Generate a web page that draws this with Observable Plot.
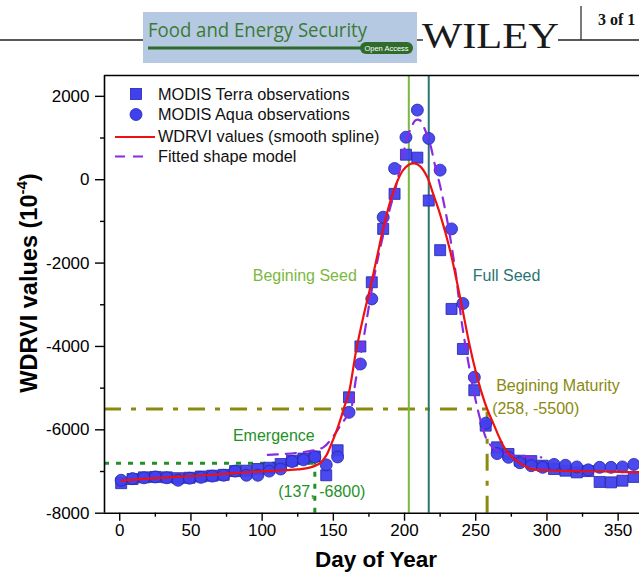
<!DOCTYPE html>
<html><head><meta charset="utf-8">
<script src="https://cdn.jsdelivr.net/npm/d3@7"></script>
<script src="https://cdn.jsdelivr.net/npm/@observablehq/plot@0.6"></script>
<style>
html,body{margin:0;padding:0;background:#fff;}
#wrap{position:relative;width:639px;height:573px;overflow:hidden;background:#fff;font-family:"Liberation Sans",Arial,sans-serif;}
#wrap svg{position:absolute;left:0;top:0;}
</style></head>
<body><div id="wrap"></div>
<script>
// ---- data ----
const days = [1,9,17,25,33,41,49,57,65,73,81,89,97,105,113,121,129,137,145,153,161,169,177,185,193,201,209,217,225,233,241,249,257,265,273,281,289,297,305,313,321,329,337,345,353,361];
const terra = [-7280,-7180,-7140,-7130,-7140,-7160,-7150,-7120,-7100,-7080,-6990,-6980,-6940,-6910,-6820,-6740,-6690,-6640,-7090,-6490,-5220,-4000,-2460,-1180,-340,600,530,-500,-1690,-3100,-4060,-5050,-5900,-6420,-6580,-6740,-6750,-6860,-6940,-6980,-7020,-6990,-7250,-7260,-7220,-7130];
const aqua = [-7210,-7170,-7150,-7130,-7150,-7210,-7160,-7140,-7110,-7090,-6990,-7090,-7090,-6990,-6940,-6760,-6720,-6650,-6840,-6650,-5580,-4420,-2860,-900,270,1020,1670,990,230,-1180,-2970,-4740,-5840,-6570,-6660,-6790,-6860,-6900,-6830,-6850,-6890,-6960,-6900,-6900,-6890,-6830];
const splineDays = [1,20,40,60,80,100,115,125,134,141,145,148,152,155,158,161,166,171,176,181,185,190,195,199,203,207,211,216,220,225,232,239,246,250,254.5,258,263,267,270,275,279,288,300,320,340,365];
const splineVals = [-7220,-7170,-7130,-7090,-7040,-6995,-6970,-6950,-6900,-6790,-6620,-6390,-6050,-5750,-5420,-5100,-4100,-3300,-2580,-1800,-1170,-520,-30,230,360,390,320,60,-330,-830,-1700,-2820,-4020,-4600,-5150,-5500,-5900,-6220,-6420,-6640,-6750,-6930,-6970,-6990,-7000,-7020];
const modelDays = [104,115,125,135,143,149,155,159,162,166,169,173,176,180,183,187,190,193,196,200,204,208,211,214,218,222,225,230,236,240,245,250,254,258,263,270,280,296];
const modelVals = [-6600,-6580,-6550,-6500,-6420,-6200,-5900,-5700,-5550,-4750,-4260,-3450,-2830,-2100,-1620,-1050,-660,-300,150,750,1200,1430,1420,1230,850,250,-150,-980,-2260,-3380,-4420,-5300,-5850,-6250,-6450,-6570,-6630,-6660];
const xMajor = [0,50,100,150,200,250,300,350];
const xMinor = [25,75,125,175,225,275,325];
const yMajor = [-8000,-6000,-4000,-2000,0,2000];
const yMinor = [-7000,-5000,-3000,-1000,1000];
const stageLines = [{day:203, name:"Begining Seed"},{day:217, name:"Full Seed"}];
const emergence = {day:137, value:-6800, name:"Emergence", label:"(137, -6800)"};
const maturity = {day:258, value:-5500, name:"Begining Maturity", label:"(258, -5500)"};
const legendItems = ["MODIS Terra observations","MODIS Aqua observations","WDRVI values (smooth spline)","Fitted shape model"];

const xDom = [-10.7, 365];
const yDom = [-8000, 2500];
const terraData = days.map((d,i)=>({day:d, v:terra[i]}));
const aquaData = days.map((d,i)=>({day:d, v:aqua[i]}));
const splineData = splineDays.map((d,i)=>({day:d, v:splineVals[i]}));
const modelData = modelDays.map((d,i)=>({day:d, v:modelVals[i]}));

const cSeed="#7cb83e", cFull="#2a7575", cEm="#1f9127", cMat="#8a8a10";
const blue="#4040ee", blueEdge="#2525a8";

const chart = Plot.plot({
  width:639, height:573,
  marginTop:75, marginBottom:60.3, marginLeft:104, marginRight:0,
  x:{domain:xDom}, y:{domain:yDom},
  style:{fontFamily:"'Liberation Sans',Arial,sans-serif", fontSize:"17px", color:"#000", background:"transparent", overflow:"visible"},
  marks:[
    // reference lines
    Plot.ruleY([emergence], {y:"value", x1:xDom[0], x2:"day", stroke:cEm, strokeWidth:3, strokeDasharray:"5,7"}),
    Plot.ruleX([emergence], {x:"day", y1:yDom[0], y2:"value", stroke:cEm, strokeWidth:3, strokeDasharray:"5,7"}),
    Plot.ruleY([maturity], {y:"value", x1:xDom[0], x2:"day", stroke:cMat, strokeWidth:3, strokeDasharray:"17,10,5,10"}),
    Plot.ruleX([maturity], {x:"day", y1:yDom[0], y2:"value", stroke:cMat, strokeWidth:3, strokeDasharray:"17,10,5,10"}),
    Plot.ruleX([stageLines[0]], {x:"day", stroke:cSeed, strokeWidth:2}),
    Plot.ruleX([stageLines[1]], {x:"day", stroke:cFull, strokeWidth:2}),
    // observations
    Plot.dot(terraData, {x:"day", y:"v", symbol:"square", r:6.2, fill:blue, stroke:blueEdge, strokeWidth:0.8, fillOpacity:0.95}),
    Plot.dot(aquaData, {x:"day", y:"v", symbol:"circle", r:6, fill:blue, stroke:blueEdge, strokeWidth:0.8, fillOpacity:0.95}),
    // curves
    Plot.line(modelData, {x:"day", y:"v", curve:"catmull-rom", stroke:"#8a2be2", strokeWidth:2.2, strokeDasharray:"10,8"}),
    Plot.line(splineData, {x:"day", y:"v", curve:"catmull-rom", stroke:"#ee1111", strokeWidth:2.2}),
    // annotations
    Plot.text([stageLines[0]], {x:"day", y:-2300, text:"name", textAnchor:"end", dx:-52, fill:cSeed, fontSize:16}),
    Plot.text([stageLines[1]], {x:"day", y:-2300, text:"name", textAnchor:"start", dx:44, fill:cFull, fontSize:16}),
    Plot.text([emergence], {x:"day", y:"value", text:"name", textAnchor:"middle", dx:-41, dy:-27, fill:cEm, fontSize:16}),
    Plot.text([emergence], {x:"day", y:"value", text:"label", textAnchor:"middle", dx:7, dy:29, fill:cEm, fontSize:16}),
    Plot.text([maturity], {x:"day", y:"value", text:"name", textAnchor:"start", dx:9, dy:-23, fill:cMat, fontSize:16}),
    Plot.text([maturity], {x:"day", y:"value", text:"label", textAnchor:"start", dx:5, dy:0, fill:cMat, fontSize:16}),
    // frame
    Plot.ruleX([xDom[0]], {stroke:"#000", strokeWidth:1.6}),
    Plot.ruleY([yDom[1]], {stroke:"#000", strokeWidth:1.6}),
    Plot.ruleY([yDom[0]], {stroke:"#000", strokeWidth:1.6}),
    // axes
    Plot.axisY({ticks:yMajor, tickSize:9, tickPadding:6, tickFormat:d=>String(d), fontSize:17, label:null, strokeWidth:1.4}),
    Plot.axisY({ticks:yMinor, tickSize:4, tickFormat:()=>"", label:null, strokeWidth:1.4}),
    Plot.axisX({ticks:xMajor, tickSize:8, tickPadding:3, tickFormat:d=>String(d), fontSize:17, label:null, strokeWidth:1.4}),
    Plot.axisX({ticks:xMinor, tickSize:4, tickFormat:()=>"", label:null, strokeWidth:1.4})
  ]
});
document.getElementById("wrap").appendChild(chart);

// overlay: header, legend, axis titles
const ns="http://www.w3.org/2000/svg";
const ov=document.createElementNS(ns,"svg");
ov.setAttribute("width",639); ov.setAttribute("height",573);
ov.style.pointerEvents="none";
ov.innerHTML = `
 <line x1="0" y1="40" x2="143" y2="40" stroke="#222" stroke-width="1.4"/>
 <rect x="143" y="12" width="274" height="51" fill="#b6c9e3"/>
 <text x="148" y="37" font-family="'Open Sans','Liberation Sans',sans-serif" font-size="20" fill="#3b7a33" textLength="219" lengthAdjust="spacingAndGlyphs">Food and Energy Security</text>
 <rect x="148" y="46.5" width="214" height="3" fill="#2f6b2a"/>
 <rect x="360" y="42" width="53" height="12" rx="6" fill="#2f6b2a"/>
 <text x="386.5" y="51" font-family="'Liberation Sans',Arial,sans-serif" font-size="7.5" fill="#fff" text-anchor="middle">Open Access</text>
 <line x1="417" y1="40" x2="423" y2="40" stroke="#222" stroke-width="1.4"/>
 <text x="422" y="48" font-family="'Liberation Serif','Times New Roman',serif" font-size="35" fill="#1a1a1a" textLength="137" lengthAdjust="spacingAndGlyphs">WILEY</text>
 <line x1="558" y1="40" x2="639" y2="40" stroke="#222" stroke-width="1.4"/>
 <line x1="581" y1="6" x2="581" y2="40" stroke="#222" stroke-width="1.2"/>
 <text x="598" y="25" font-family="'Liberation Serif','Times New Roman',serif" font-weight="bold" font-size="16" fill="#111">3 of 1</text>
 <g font-family="'Liberation Sans',Arial,sans-serif" font-size="16.3" fill="#111">
   <rect x="130.5" y="88.5" width="11" height="11" fill="${blue}" stroke="${blueEdge}" stroke-width="0.8"/>
   <text x="158" y="100">${legendItems[0]}</text>
   <circle cx="136" cy="114.5" r="6" fill="${blue}" stroke="${blueEdge}" stroke-width="0.8"/>
   <text x="158" y="120">${legendItems[1]}</text>
   <line x1="115" y1="137" x2="155" y2="137" stroke="#ee1111" stroke-width="2.2"/>
   <text x="158" y="142">${legendItems[2]}</text>
   <line x1="115" y1="156.5" x2="147" y2="156.5" stroke="#8a2be2" stroke-width="2.2" stroke-dasharray="10,8"/>
   <text x="158" y="162">${legendItems[3]}</text>
 </g>
 <text transform="translate(37,283) rotate(-90)" text-anchor="middle" font-family="'Liberation Sans',Arial,sans-serif" font-weight="bold" font-size="23.5" fill="#000">WDRVI values (10<tspan dy="-10" font-size="15">-4</tspan><tspan dy="10">)</tspan></text>
 <text x="376" y="567" text-anchor="middle" font-family="'Liberation Sans',Arial,sans-serif" font-weight="bold" font-size="22.5" fill="#000">Day of Year</text>
`;
document.getElementById("wrap").appendChild(ov);
</script>
</body></html>
